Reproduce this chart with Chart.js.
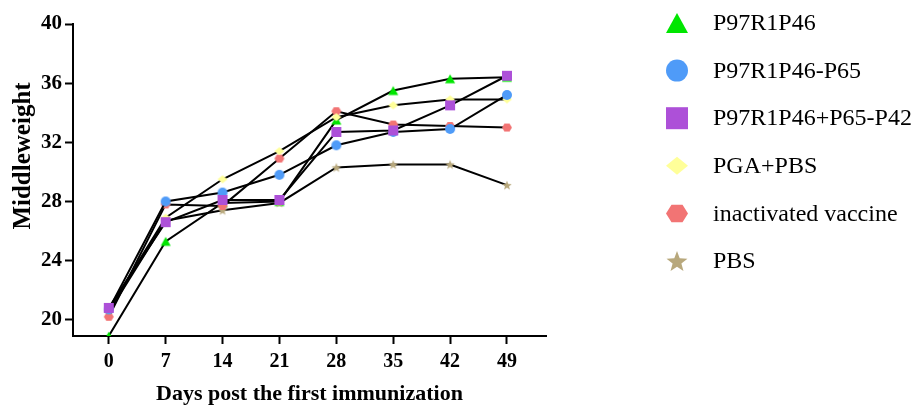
<!DOCTYPE html>
<html><head><meta charset="utf-8">
<script src="https://cdn.jsdelivr.net/npm/chart.js@4.4.1/dist/chart.umd.min.js"></script>
<style>html,body{margin:0;padding:0;background:#fff;}#wrap{width:919px;height:405px;}</style>
</head><body><div id="wrap"><canvas id="c" width="919" height="405"></canvas></div>
<script>
const days = [0, 7, 14, 21, 28, 35, 42, 49];
const seriesNames = ['P97R1P46', 'P97R1P46-P65', 'P97R1P46+P65-P42', 'PGA+PBS', 'inactivated vaccine', 'PBS'];
const p97r1p46      = [18.9, 25.3, 27.9, 28.0, 33.5, 35.5, 36.3, 36.4];
const p97r1p46_p65  = [20.7, 28.0, 28.6, 29.8, 31.8, 32.7, 32.9, 35.2];
const p97_p65_p42   = [20.8, 26.6, 28.1, 28.1, 32.7, 32.8, 34.5, 36.5];
const pgaPbs        = [20.7, 26.9, 29.5, 31.4, 33.7, 34.5, 34.9, 34.9];
const inactivated   = [20.2, 27.8, 27.7, 30.9, 34.1, 33.2, 33.1, 33.0];
const pbs           = [20.5, 26.7, 27.4, 27.9, 30.3, 30.5, 30.5, 29.1];
const yTicks = [20, 24, 28, 32, 36, 40];
const xTicks = days;
const yTitle = 'Middleweight';
const xTitle = 'Days post the first immunization';

const seriesValues = [p97r1p46, p97r1p46_p65, p97_p65_p42, pgaPbs, inactivated, pbs];
const shapes = ['triangle', 'circle', 'square', 'diamond', 'hexagon', 'star'];
const colors = ['#00e600', '#4f9bf8', '#ad50d8', '#ffff99', '#f27474', '#b8a87c'];
const drawOrder = [6, 2, 1, 3, 4, 5];
const serif = '"Liberation Serif", "Times New Roman", serif';

function drawShape(ctx, shape, x, y, s, color) {
  const r = s / 2;
  ctx.save();
  ctx.fillStyle = color;
  ctx.beginPath();
  if (shape === 'triangle') {
    const h = s * 0.9;
    ctx.moveTo(x, y - h / 2); ctx.lineTo(x + r, y + h / 2); ctx.lineTo(x - r, y + h / 2); ctx.closePath();
  } else if (shape === 'circle') {
    ctx.arc(x, y, r, 0, Math.PI * 2);
  } else if (shape === 'square') {
    ctx.rect(x - r, y - r, s, s);
  } else if (shape === 'diamond') {
    const h = s * 0.82;
    ctx.moveTo(x, y - h / 2); ctx.lineTo(x + r, y); ctx.lineTo(x, y + h / 2); ctx.lineTo(x - r, y); ctx.closePath();
  } else if (shape === 'hexagon') {
    for (let k = 0; k < 6; k++) {
      const a = k * Math.PI / 3;
      const px = x + r * Math.cos(a), py = y + r * 0.92 * Math.sin(a);
      if (k === 0) ctx.moveTo(px, py); else ctx.lineTo(px, py);
    }
    ctx.closePath();
  } else if (shape === 'star') {
    for (let k = 0; k < 10; k++) {
      const a = -Math.PI / 2 + k * Math.PI / 5;
      const rr = (k % 2 === 0) ? r : r * 0.42;
      const px = x + rr * Math.cos(a), py = y + r * 0.1 + rr * Math.sin(a);
      if (k === 0) ctx.moveTo(px, py); else ctx.lineTo(px, py);
    }
    ctx.closePath();
  }
  ctx.fill();
  ctx.restore();
}

function markerCanvas(shape, color, s) {
  const c = document.createElement('canvas');
  const size = s + 4;
  c.width = size; c.height = size;
  drawShape(c.getContext('2d'), shape, size / 2, size / 2, s, color);
  return c;
}

const datasets = seriesNames.map((name, i) => ({
  label: name,
  data: days.map((d, j) => ({ x: d, y: seriesValues[i][j] })),
  showLine: true,
  borderColor: '#000',
  borderWidth: 2,
  pointStyle: markerCanvas(shapes[i], colors[i], 10),
  pointRadius: 5,
  pointHoverRadius: 5,
  order: drawOrder[i],
  fill: false,
  tension: 0
}));

const textPlugin = {
  id: 'sideLegendAndTitle',
  afterDraw(chart) {
    const ctx = chart.ctx;
    ctx.save();
    ctx.font = '24px ' + serif;
    ctx.fillStyle = '#000';
    ctx.textBaseline = 'middle';
    ctx.textAlign = 'left';
    seriesNames.forEach((name, i) => {
      const y = 23 + i * 47.6;
      drawShape(ctx, shapes[i], 677, y, 22, colors[i]);
      ctx.fillText(name, 713, y + 1);
    });
    ctx.translate(24, 156);
    ctx.rotate(-Math.PI / 2);
    ctx.textAlign = 'center';
    ctx.font = 'bold 25px ' + serif;
    ctx.fillText(yTitle, 0, 0);
    ctx.restore();
  }
};

const tickFont = { family: serif, size: 20, weight: 'bold' };

new Chart(document.getElementById('c'), {
  type: 'scatter',
  data: { datasets },
  options: {
    responsive: false,
    devicePixelRatio: 1,
    animation: false,
    layout: { padding: { left: 0, top: 24, right: 373, bottom: 0 } },
    plugins: { legend: { display: false }, tooltip: { enabled: false } },
    scales: {
      x: {
        type: 'linear', min: -4.4, max: 53.8,
        afterBuildTicks: s => { s.ticks = xTicks.map(v => ({ value: v })); },
        afterFit: s => { s.height = 69; },
        grid: { display: true, drawOnChartArea: false, drawTicks: true, tickLength: 8, tickWidth: 2, tickColor: '#000' },
        border: { display: true, color: '#000', width: 2 },
        ticks: { color: '#000', font: tickFont, padding: 6, maxRotation: 0, autoSkip: false },
        title: { display: true, text: xTitle, color: '#000',
                 font: { family: serif, size: 22, weight: 'bold' }, padding: { top: 0, bottom: -3 } }
      },
      y: {
        type: 'linear', min: 18.9, max: 40,
        afterBuildTicks: s => { s.ticks = yTicks.map(v => ({ value: v })); },
        afterFit: s => { s.width = 73; },
        grid: { display: true, drawOnChartArea: false, drawTicks: true, tickLength: 8, tickWidth: 2, tickColor: '#000' },
        border: { display: true, color: '#000', width: 2 },
        ticks: { color: '#000', font: { family: serif, size: 21, weight: 'bold' }, padding: 3 },
        title: { display: false }
      }
    }
  },
  plugins: [textPlugin]
});
</script>
</body></html>
